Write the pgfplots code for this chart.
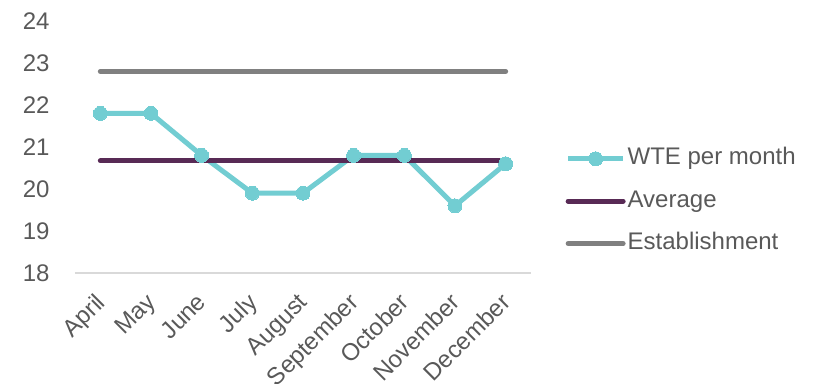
\documentclass[border=0pt]{standalone}
\usepackage{fontspec}
\setmainfont{Liberation Sans}
\usepackage{pgfplots}
\pgfplotsset{compat=1.18}
\definecolor{teal1}{HTML}{72CDD2}
\definecolor{avgc}{HTML}{582A55}
\definecolor{estc}{HTML}{808080}
\definecolor{txt}{HTML}{595959}
\definecolor{axc}{HTML}{D9D9D9}
\begin{document}
\fontsize{12}{14}\selectfont
\begin{tikzpicture}
\begin{axis}[
  at={(0,0)}, anchor=south west,
  scale only axis, width=228pt, height=126pt,
  xmin=-0.5, xmax=8.5, ymin=18, ymax=24,
  ytick={18,19,20,21,22,23,24},
  xtick={0,1,2,3,4,5,6,7,8},
  xticklabels={April,May,June,July,August,September,October,November,December},
  axis lines=left,
  x axis line style={-, draw=axc, line width=1pt},
  y axis line style={draw=none},
  major tick length=0pt,
  tick label style={font=\fontsize{12}{14}\selectfont, text=txt},
  /pgf/number format/assume math mode=true,
  yticklabel style={xshift=-8.5pt},
  xticklabel style={xshift=-3pt, rotate=45, anchor=north east, inner sep=6.5pt},
  legend image code/.code={\draw[mark repeat=2,mark phase=2] plot coordinates {(0pt,0pt) (13.75pt,0pt) (27.5pt,0pt)};},
  legend cell align=left,
  legend style={draw=none, fill=none, at={(1.076,0.285)}, anchor=west,
    inner sep=0pt, outer sep=0pt, row sep=9.2pt,
    nodes={inner sep=0pt, text height=9pt, text depth=3pt, font=\fontsize{12}{14}\selectfont, text=txt},
    /tikz/every odd column/.append style={column sep=1pt}},
]
\addplot[color=teal1, line width=2.5pt, mark=*, mark size=3.5pt, mark options={fill=teal1, draw=teal1, line width=0pt}]
  coordinates {(0,21.8) (1,21.8) (2,20.8) (3,19.9) (4,19.9) (5,20.8) (6,20.8) (7,19.6) (8,20.6)};
\addlegendentry{WTE per month}
\addplot[color=avgc, line width=2.5pt, line cap=round]
  coordinates {(0,20.67) (1,20.67) (2,20.67) (3,20.67) (4,20.67) (5,20.67) (6,20.67) (7,20.67) (8,20.67)};
\addlegendentry{Average}
\addplot[color=estc, line width=2.5pt, line cap=round]
  coordinates {(0,22.8) (1,22.8) (2,22.8) (3,22.8) (4,22.8) (5,22.8) (6,22.8) (7,22.8) (8,22.8)};
\addlegendentry{Establishment}
\end{axis}
\pgfresetboundingbox
\path[use as bounding box] (-37.5pt,-55.5pt) rectangle (374pt,136.5pt);
\end{tikzpicture}
\end{document}
